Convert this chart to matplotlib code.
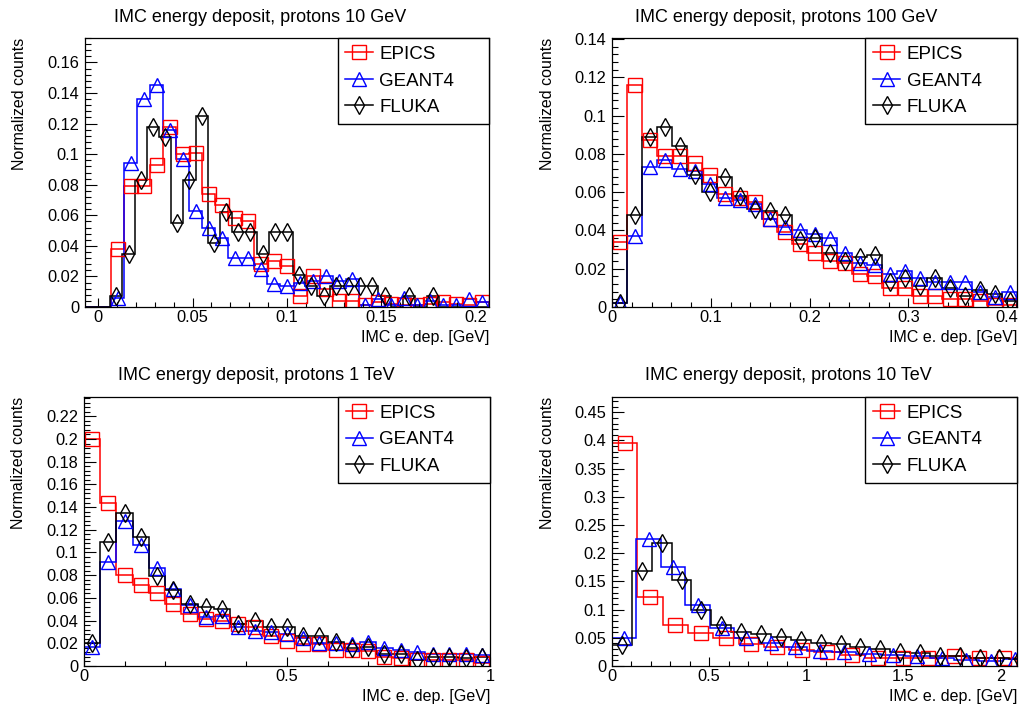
import numpy as np
import matplotlib
matplotlib.use('Agg')
import matplotlib.pyplot as plt
from matplotlib.lines import Line2D
from matplotlib.ticker import MultipleLocator, AutoMinorLocator, FuncFormatter

plt.rcParams['font.family'] = ['Liberation Sans', 'DejaVu Sans']

labels = ['EPICS', 'GEANT4', 'FLUKA']
titles = ['IMC energy deposit, protons 10 GeV', 'IMC energy deposit, protons 100 GeV',
          'IMC energy deposit, protons 1 TeV', 'IMC energy deposit, protons 10 TeV']
xlabel = 'IMC e. dep. [GeV]'
ylabel = 'Normalized counts'

# ---- protons 10 GeV (EPICS/GEANT4 bins 0.2/29, FLUKA bins 0.2/31, first bin starts one width below 0)
p10g_w = 0.2 / 29
p10g_w_fluka = 0.2 / 31
p10g_epics = [0, 0, 0.038, 0.079, 0.079, 0.093, 0.118, 0.100, 0.101, 0.074, 0.067, 0.058, 0.056,
              0.028, 0.030, 0.027, 0.007, 0.020, 0.012, 0.004, 0.004, 0.001, 0.003, 0.002, 0.001,
              0.001, 0.002, 0.003, 0.002, 0.001, 0.003]
p10g_geant4 = [0, 0, 0.006, 0.094, 0.136, 0.145, 0.116, 0.097, 0.063, 0.052, 0.045, 0.032, 0.032,
               0.025, 0.015, 0.014, 0.016, 0.017, 0.020, 0.017, 0.018, 0.001, 0.005, 0.001, 0.006,
               0.001, 0.004, 0.001, 0.001, 0.005, 0.003]
p10g_fluka = [0, 0, 0.007, 0.035, 0.083, 0.118, 0.111, 0.055, 0.083, 0.125, 0.042, 0.062, 0.049,
              0.049, 0.035, 0.049, 0.049, 0.021, 0.014, 0.007, 0.014, 0.014, 0.014, 0.014, 0.007,
              0, 0.007, 0, 0.007, 0, 0, 0, 0]

# ---- protons 100 GeV (27 bins from 0 to 0.41)
p100g_w = 0.41 / 27
p100g_epics = [0.034, 0.116, 0.087, 0.079, 0.079, 0.075, 0.069, 0.059, 0.057, 0.055, 0.046, 0.039,
               0.033, 0.028, 0.024, 0.023, 0.017, 0.016, 0.010, 0.010, 0.006, 0.006, 0.004, 0.004,
               0.003, 0.001, 0.001]
p100g_geant4 = [0.002, 0.037, 0.073, 0.077, 0.072, 0.071, 0.064, 0.057, 0.056, 0.054, 0.046, 0.042,
                0.040, 0.038, 0.036, 0.028, 0.023, 0.022, 0.017, 0.019, 0.015, 0.013, 0.013, 0.013,
                0.008, 0.005, 0.008]
p100g_fluka = [0.002, 0.048, 0.089, 0.094, 0.084, 0.069, 0.060, 0.068, 0.058, 0.051, 0.050, 0.048,
               0.035, 0.036, 0.028, 0.024, 0.026, 0.027, 0.013, 0.015, 0.011, 0.015, 0.010, 0.006,
               0.009, 0.007, 0.003]

# ---- protons 1 TeV (25 bins of 0.04)
p1t_w = 0.04
p1t_epics = [0.200, 0.144, 0.080, 0.071, 0.064, 0.055, 0.046, 0.041, 0.040, 0.037, 0.034, 0.026,
             0.022, 0.019, 0.019, 0.014, 0.014, 0.013, 0.008, 0.007, 0.005, 0.005, 0.005, 0.005, 0.003]
p1t_geant4 = [0.017, 0.092, 0.128, 0.107, 0.086, 0.068, 0.054, 0.043, 0.044, 0.034, 0.031, 0.030,
              0.028, 0.025, 0.020, 0.020, 0.019, 0.021, 0.016, 0.014, 0.012, 0.011, 0.011, 0.011, 0.010]
p1t_fluka = [0.020, 0.109, 0.135, 0.114, 0.079, 0.067, 0.055, 0.052, 0.050, 0.037, 0.040, 0.034,
             0.034, 0.026, 0.026, 0.021, 0.016, 0.017, 0.011, 0.011, 0.005, 0.008, 0.008, 0.007, 0.008]

# ---- protons 10 TeV (each code has its own bin width)
p10t_w_epics = 0.1303
p10t_w_geant4 = 0.1258
p10t_w_fluka = 0.1023
p10t_epics = [0.396, 0.123, 0.073, 0.058, 0.049, 0.039, 0.033, 0.028, 0.024, 0.020, 0.015, 0.014,
              0.014, 0.017, 0.014, 0.014]
p10t_geant4 = [0.050, 0.225, 0.175, 0.108, 0.067, 0.049, 0.040, 0.033, 0.027, 0.025, 0.021, 0.020,
               0.017, 0.014, 0.010, 0.008, 0.012]
p10t_fluka = [0.037, 0.168, 0.218, 0.153, 0.100, 0.073, 0.061, 0.056, 0.051, 0.046, 0.040, 0.039,
              0.034, 0.030, 0.025, 0.023, 0.018, 0.017, 0.015, 0.014, 0.012]

colors = ['#ff0000', '#0000ff', '#000000']
markers = ['s', '^', 'd']
msizes = [9.5, 9.5, 8.8]

panels = [
    dict(title=titles[0], rect=[85, 38, 489, 307], xlim=(-p10g_w, 0.2069), ylim=(0, 0.176),
         xmaj=0.05, ymaj=0.02, title_x=260,
         series=[(-p10g_w, p10g_w, p10g_epics), (-p10g_w, p10g_w, p10g_geant4),
                 (-p10g_w_fluka, p10g_w_fluka, p10g_fluka)]),
    dict(title=titles[1], rect=[612, 38, 1017, 307], xlim=(0, 0.41), ylim=(0, 0.1405),
         xmaj=0.1, ymaj=0.02, title_x=786,
         series=[(0, p100g_w, p100g_epics), (0, p100g_w, p100g_geant4), (0, p100g_w, p100g_fluka)]),
    dict(title=titles[2], rect=[84, 397, 490, 666], xlim=(0, 1.0), ylim=(0, 0.237),
         xmaj=0.5, ymaj=0.02, title_x=256,
         series=[(0, p1t_w, p1t_epics), (0, p1t_w, p1t_geant4), (0, p1t_w, p1t_fluka)]),
    dict(title=titles[3], rect=[612, 397, 1017, 666], xlim=(0, 2.085), ylim=(0, 0.477),
         xmaj=0.5, ymaj=0.05, title_x=788,
         series=[(0, p10t_w_epics, p10t_epics), (0, p10t_w_geant4, p10t_geant4),
                 (0, p10t_w_fluka, p10t_fluka)]),
]

W, H = 1026, 706
fig = plt.figure(figsize=(W / 100, H / 100), dpi=100)
fmt = FuncFormatter(lambda v, p: '%g' % round(v, 6))

for p in panels:
    x0, y0, x1, y1 = p['rect']
    ax = fig.add_axes([x0 / W, 1 - y1 / H, (x1 - x0) / W, (y1 - y0) / H])
    for (start, w, vals), c, m, ms in zip(p['series'], colors, markers, msizes):
        vals = np.array(vals)
        edges = start + w * np.arange(len(vals) + 1)
        centers = edges[:-1] + w / 2
        ax.stairs(vals, edges, color=c, lw=1.1, baseline=0)
        ok = vals > 0
        ax.plot(centers[ok], vals[ok], ls='none', marker=m, ms=ms, mfc='none', mec=c, mew=1.0)
    ax.set_xlim(p['xlim'])
    ax.set_ylim(p['ylim'])
    ax.xaxis.set_major_locator(MultipleLocator(p['xmaj']))
    ax.yaxis.set_major_locator(MultipleLocator(p['ymaj']))
    ax.xaxis.set_minor_locator(AutoMinorLocator(5))
    ax.yaxis.set_minor_locator(AutoMinorLocator(5))
    ax.xaxis.set_major_formatter(fmt)
    ax.yaxis.set_major_formatter(fmt)
    ax.tick_params(which='both', direction='in', top=False, right=False, labelsize=11.8, width=0.8)
    ax.tick_params(axis='y', which='major', length=8.4, pad=4)
    ax.tick_params(axis='y', which='minor', length=4.2)
    ax.tick_params(axis='x', which='major', length=6.5, pad=2.5)
    ax.tick_params(axis='x', which='minor', length=3.6)
    for s in ax.spines.values():
        s.set_linewidth(0.9)

    handles = [Line2D([], [], color=c, marker=m, ms=ms, mfc='none', mec=c, mew=1.0, lw=1.1)
               for c, m, ms in zip(colors, markers, msizes)]
    leg = ax.legend(handles, labels, loc='upper left', bbox_to_anchor=(0.625, 0, 0.375, 1.0),
                    mode='expand', borderaxespad=0, fancybox=False, edgecolor='black',
                    framealpha=1, fontsize=13.5, handlelength=1.45, handletextpad=0.35,
                    labelspacing=0.5, borderpad=0.42)
    leg.get_frame().set_linewidth(1.0)

    fig.text(p['title_x'] / W, 1 - (y0 - 21) / H, p['title'], ha='center', va='center', fontsize=13)
    fig.text(x1 / W, 1 - (y1 + 30) / H, xlabel, ha='right', va='center', fontsize=11.5)
    fig.text((x0 - 65) / W, 1 - y0 / H, ylabel, ha='center', va='top', rotation=90, fontsize=11.5)

fig.savefig('out.png', dpi=100)
